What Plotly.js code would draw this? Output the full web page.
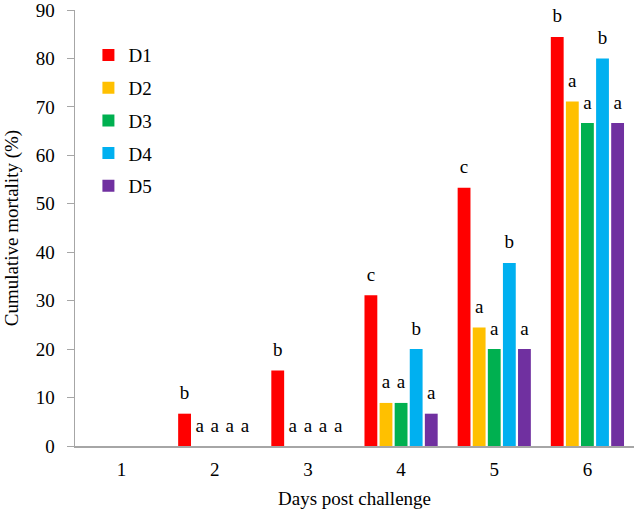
<!DOCTYPE html>
<html>
<head>
<meta charset="utf-8">
<script src="https://cdn.plot.ly/plotly-3.0.1.min.js"></script>
<style>html,body{margin:0;padding:0;background:#fff;}#chart{width:637px;height:512px;}</style>
</head>
<body>
<div id="chart"></div>
<script>
const days = ['1', '2', '3', '4', '5', '6'];
const seriesNames = ['D1', 'D2', 'D3', 'D4', 'D5'];
const d1 = [0, 6.67, 15.56, 31.11, 53.33, 84.44];
const d2 = [0, 0, 0, 8.89, 24.44, 71.11];
const d3 = [0, 0, 0, 8.89, 20.0, 66.67];
const d4 = [0, 0, 0, 20.0, 37.78, 80.0];
const d5 = [0, 0, 0, 6.67, 20.0, 66.67];
const lab1 = ['', 'b', 'b', 'c', 'c', 'b'];
const lab2 = ['', 'a', 'a', 'a', 'a', 'a'];
const lab3 = ['', 'a', 'a', 'a', 'a', 'a'];
const lab4 = ['', 'a', 'a', 'b', 'b', 'b'];
const lab5 = ['', 'a', 'a', 'a', 'a', 'a'];
const colors = ['#FF0000', '#FFC000', '#00B050', '#00B0F0', '#7030A0'];

const values = [d1, d2, d3, d4, d5];
const labels = [lab1, lab2, lab3, lab4, lab5];
const fontFam = '"Liberation Serif", "Times New Roman", serif';

const barTraces = values.map((v, i) => ({
  type: 'bar',
  name: seriesNames[i],
  legendgroup: 'g' + i,
  offsetgroup: 'o' + i,
  x: days,
  y: v,
  marker: {color: colors[i], line: {width: 0}},
  hoverinfo: 'skip'
}));

const labelTraces = values.map((v, i) => ({
  type: 'scatter',
  mode: 'markers+text',
  showlegend: false,
  offsetgroup: 'o' + i,
  x: days,
  y: v,
  text: labels[i],
  textposition: 'top center',
  cliponaxis: false,
  marker: {size: 14, opacity: 0},
  textfont: {family: fontFam, size: 19, color: '#000'},
  hoverinfo: 'skip'
}));

const layout = {
  width: 637,
  height: 512,
  margin: {l: 75, r: 3, t: 10, b: 66},
  paper_bgcolor: '#fff',
  plot_bgcolor: '#fff',
  barmode: 'group',
  scattermode: 'group',
  bargap: 0.19,
  bargroupgap: 0.15,
  scattergap: 0.19,
  showlegend: true,
  font: {family: fontFam, size: 19, color: '#000'},
  legend: {
    x: 0.024, y: 0.94, xanchor: 'left', yanchor: 'top',
    font: {family: fontFam, size: 19, color: '#000'},
    bgcolor: 'rgba(0,0,0,0)',
    itemwidth: 30,
    traceorder: 'grouped',
    tracegroupgap: 5
  },
  xaxis: {
    type: 'category',
    showline: true,
    linecolor: '#a6a6a6',
    linewidth: 1.5,
    ticks: '',
    ticklabelstandoff: 6,
    showgrid: false,
    zeroline: false,
    tickfont: {family: fontFam, size: 19},
    title: {text: 'Days post challenge', font: {family: fontFam, size: 19}, standoff: 12}
  },
  yaxis: {
    range: [0, 90],
    dtick: 10,
    showline: true,
    linecolor: '#a6a6a6',
    linewidth: 1.5,
    ticks: 'outside',
    ticklen: 7,
    tickcolor: '#a6a6a6',
    ticklabelstandoff: 8,
    ticklabeloverflow: 'allow',
    showgrid: false,
    zeroline: false,
    tickfont: {family: fontFam, size: 19},
    title: {text: 'Cumulative mortality (%)', font: {family: fontFam, size: 19}, standoff: 12}
  }
};

Plotly.newPlot('chart', barTraces.concat(labelTraces), layout, {displayModeBar: false, staticPlot: true});
</script>
</body>
</html>
